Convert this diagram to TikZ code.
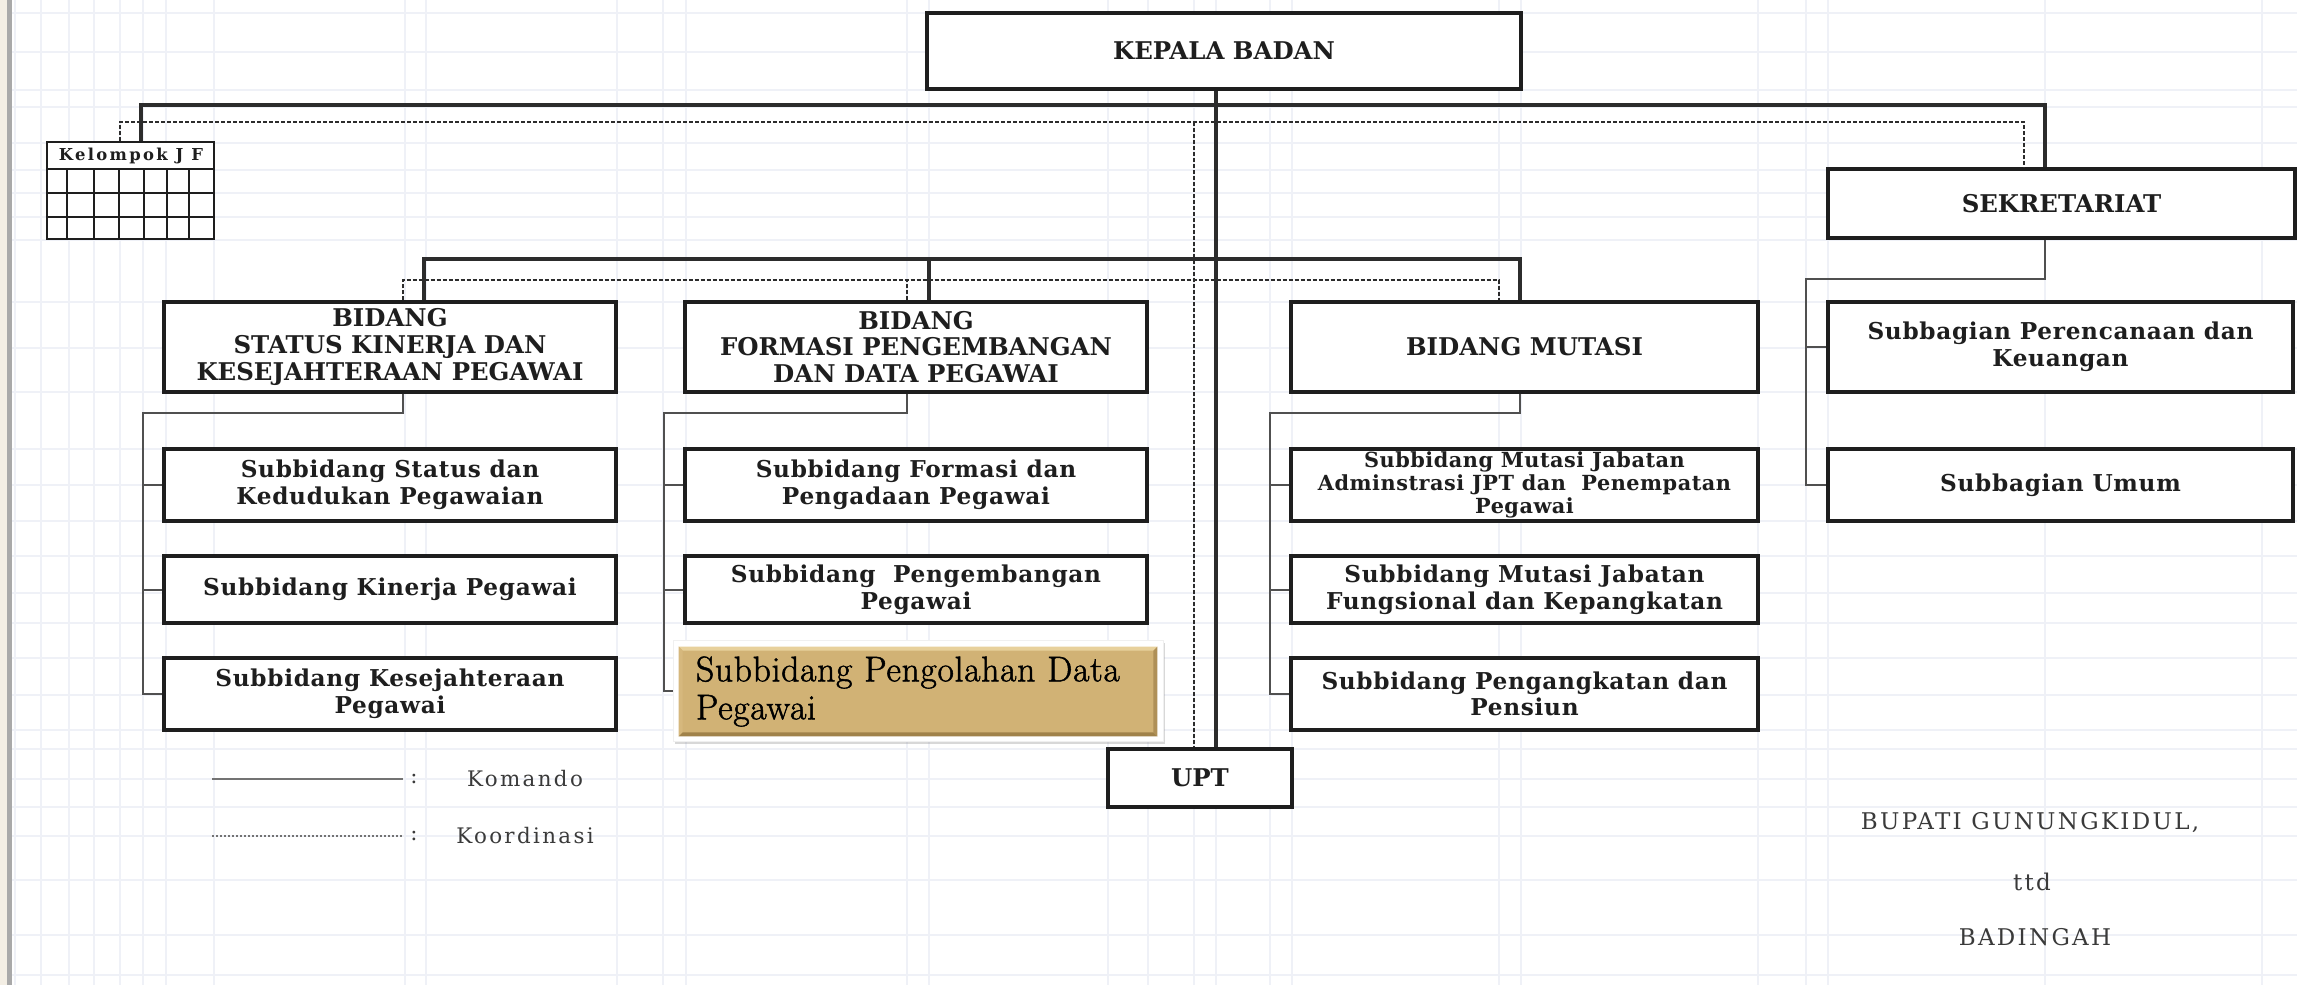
\documentclass[tikz,border=0pt]{standalone}
\usepackage{fontspec}
\usetikzlibrary{shadows,calc}
\newfontfamily\chartfont{DejaVu Serif}
\newfontfamily\platefont[FakeBold=1.4,LetterSpace=2]{Latin Modern Roman}

\definecolor{ink}{HTML}{1E1E1E}
\definecolor{wire}{HTML}{2C2C2C}
\definecolor{subwire}{HTML}{505050}
\definecolor{gridline}{HTML}{EFF1F7}
\definecolor{gold}{HTML}{D1B275}
\definecolor{goldlight}{HTML}{E8D19C}
\definecolor{golddark}{HTML}{A0824A}
\definecolor{paper}{HTML}{F3EEE4}
\definecolor{rail}{HTML}{A9A9A9}
\definecolor{softtext}{HTML}{3A3A3A}

\tikzset{
  size/.style 2 args={minimum width=#1*0.5pt, minimum height=#2*0.5pt},
  orgbox/.style={draw=ink, line width=1.7pt, fill=white, inner sep=0pt, align=center,
    text=ink, font={\chartfont\bfseries\fontsize{12.2}{13.3}\selectfont}},
  unitbox/.style={orgbox, font={\chartfont\bfseries\fontsize{11.6}{13.3}\selectfont\addfontfeature{LetterSpace=3}}},
  tightbox/.style={orgbox, font={\chartfont\bfseries\fontsize{10.4}{11.6}\selectfont\addfontfeature{LetterSpace=2.5}}},
  command/.style={draw=wire, line width=1.6pt},
  subcommand/.style={draw=subwire, line width=1pt},
  coord/.style={draw=wire, line width=0.9pt, dash pattern=on 2pt off 1pt},
  legendtext/.style={text=softtext, font={\chartfont\fontsize{10.7}{12}\selectfont\addfontfeature{LetterSpace=11}}},
  signtext/.style={text=softtext, font={\chartfont\fontsize{11.5}{12}\selectfont\addfontfeature{LetterSpace=10}}},
}

\begin{document}
\begin{tikzpicture}[x=0.5pt, y=-0.5pt]
\useasboundingbox (0,0) rectangle (2297,985);
\fill[white] (0,0) rectangle (2297,985);

% faint page grid
\foreach \gx in {15,41,69,94,120,143,166,214,405,426,617,663,686,907,929,1108,1148,1194,1216,1270,1292,1499,1521,1758,1806,1828,2045,2262}
  \draw[gridline, line width=0.6pt] (\gx,0) -- (\gx,985);
\foreach \gy in {13,52,90,107,143,170,193,217,240,302,348,392,449,485,521,556,593,623,658,695,730,749,779,807,836,880,935,975}
  \draw[gridline, line width=0.6pt] (0,\gy) -- (2297,\gy);

% left page rail
\fill[paper] (0,0) rectangle (7,985);
\fill[rail] (7,0) rectangle (12,985);

% ---------- boxes ----------
\node[orgbox, size={594}{76}] (kepala) at (1224,51) {KEPALA BADAN};
\node[orgbox, line width=1.1pt, size={167}{97}] (kjf) at (130.5,190.5) {};
\node[orgbox, size={467}{69}] (sekre) at (2061.5,203.5) {SEKRETARIAT};
\node[orgbox, size={452}{90}] (status) at (390,347) {BIDANG\\STATUS KINERJA DAN\\KESEJAHTERAAN PEGAWAI};
\node[orgbox, size={462}{90}] (formasi) at (916,347) {BIDANG\\FORMASI PENGEMBANGAN\\DAN DATA PEGAWAI};
\node[orgbox, size={467}{90}] (mutasi) at (1524.5,347) {BIDANG MUTASI};
\node[orgbox, size={184}{58}] (upt) at (1200,778) {UPT};

\node[unitbox, size={452}{72}] (st1) at (390,485) {Subbidang Status dan\\Kedudukan Pegawaian};
\node[unitbox, size={452}{67}] (st2) at (390,589.5) {Subbidang Kinerja Pegawai};
\node[unitbox, size={452}{72}] (st3) at (390,694) {Subbidang Kesejahteraan\\Pegawai};
\node[unitbox, size={462}{72}] (fm1) at (916,485) {Subbidang Formasi dan\\Pengadaan Pegawai};
\node[unitbox, size={462}{67}] (fm2) at (916,589.5) {Subbidang\ \ Pengembangan\\Pegawai};
\node[tightbox, size={467}{72}] (mu1) at (1524.5,485) {Subbidang Mutasi Jabatan\\Adminstrasi JPT dan\ \ Penempatan\\Pegawai};
\node[unitbox, size={467}{67}] (mu2) at (1524.5,589.5) {Subbidang Mutasi Jabatan\\Fungsional dan Kepangkatan};
\node[unitbox, size={467}{72}] (mu3) at (1524.5,694) {Subbidang Pengangkatan dan\\Pensiun};
\node[unitbox, size={465}{90}] (sk1) at (2060.5,347) {Subbagian Perencanaan dan\\Keuangan};
\node[unitbox, size={465}{72}] (sk2) at (2060.5,485) {Subbagian Umum};

% highlighted unit: white card, bevelled gold plate
\node[fill=white, draw=black!6, line width=0.4pt, inner sep=0pt, size={490}{101},
      drop shadow={shadow xshift=1.2pt, shadow yshift=-1.6pt, opacity=0.3}] (fm3back) at (918,690.5) {};
\node[fill=gold, inner sep=0pt, size={478}{89}] (fm3) at (918,691.5) {};

% bus coordinates
\coordinate (busA) at (1216,105);
\coordinate (busB) at (1194,122);
\coordinate (busC) at (1216,259);
\coordinate (busD) at (1194,280);
\coordinate (jfA) at (141,0);   \coordinate (jfB) at (120,0);
\coordinate (skA) at (2045,0);  \coordinate (skB) at (2024,0);
\coordinate (stA) at (424,0);   \coordinate (stB) at (403,0);
\coordinate (fmA) at (929,0);   \coordinate (fmB) at (907,0);
\coordinate (muA) at (1520,0);  \coordinate (muB) at (1499,0);
\coordinate (stL) at (143,413);
\coordinate (fmL) at (664,413);
\coordinate (muL) at (1270,413);
\coordinate (skL) at (1806,279);

% command lines
\draw[command] (kjf.north -| jfA) |- (busA) -| (sekre.north -| skA);
\draw[command] (kepala.south -| busA) -- (upt.north -| busA);
\draw[command] (status.north -| stA) |- (busC) -| (mutasi.north -| muA);
\draw[command] (formasi.north -| fmA) -- (fmA |- busC);

% coordination lines
\draw[coord] (kjf.north -| jfB) |- (busB) -| (sekre.north -| skB);
\draw[coord] (busB) -- (upt.north -| busB);
\draw[coord] (status.north -| stB) |- (busD) -| (mutasi.north -| muB);
\draw[coord] (formasi.north -| fmB) -- (fmB |- busD);

% sub-unit trees
\draw[subcommand] (status.south -| stB) |- (stL) -- (stL |- st3.west) -- (st3.west);
\draw[subcommand] (stL |- st1.west) -- (st1.west);
\draw[subcommand] (stL |- st2.west) -- (st2.west);

\draw[subcommand] (formasi.south -| fmB) |- (fmL) -- (fmL |- fm3back.west) -- (fm3back.west);
\draw[subcommand] (fmL |- fm1.west) -- (fm1.west);
\draw[subcommand] (fmL |- fm2.west) -- (fm2.west);

\draw[subcommand] (mutasi.south -| muA) |- (muL) -- (muL |- mu3.west) -- (mu3.west);
\draw[subcommand] (muL |- mu1.west) -- (mu1.west);
\draw[subcommand] (muL |- mu2.west) -- (mu2.west);

\draw[subcommand] (sekre.south -| skA) |- (skL) -- (skL |- sk2.west) -- (sk2.west);
\draw[subcommand] (skL |- sk1.west) -- (sk1.west);

% gold bevel and label
\fill[goldlight] (fm3.north west) -- (fm3.north east) -- ([shift={(-4,4)}]fm3.north east) -- ([shift={(4,4)}]fm3.north west) -- cycle;
\fill[gold!80!goldlight] (fm3.north west) -- ([shift={(4,4)}]fm3.north west) -- ([shift={(4,-4)}]fm3.south west) -- (fm3.south west) -- cycle;
\fill[golddark] (fm3.south west) -- ([shift={(4,-4)}]fm3.south west) -- ([shift={(-4,-4)}]fm3.south east) -- (fm3.south east) -- cycle;
\fill[golddark!70!gold] (fm3.north east) -- ([shift={(-4,4)}]fm3.north east) -- ([shift={(-4,-4)}]fm3.south east) -- (fm3.south east) -- cycle;
\node[text width=222pt, align=left, inner sep=0pt,
      font={\platefont\fontsize{17.8}{19}\selectfont}] (fm3text) at (fm3.center) {Subbidang Pengolahan Data\\Pegawai};

% functional group table
\node[text=ink, font={\chartfont\bfseries\fontsize{8.2}{9}\selectfont\addfontfeature{LetterSpace=14}}] (kjftitle) at (131,156) {Kelompok J F};
\foreach \ry in {169,193,217}
  \draw[ink, line width=1pt] (kjf.west |- 0,\ry) -- (kjf.east |- 0,\ry);
\foreach \cx in {67,94,119,144,167,189}
  \draw[ink, line width=1pt] (\cx,169) -- (kjf.south -| \cx,0);

% legend
\coordinate (lgA1) at (212,779); \coordinate (lgA2) at (403,779);
\coordinate (lgB1) at (212,836); \coordinate (lgB2) at (403,836);
\draw[draw=black!55, line width=1.4pt] (lgA1) -- (lgA2);
\draw[draw=black!55, line width=1pt, dash pattern=on 1.2pt off 0.8pt] (lgB1) -- (lgB2);
\node[legendtext] (colA) at (414,779) {:};
\node[legendtext] (colB) at (414,836) {:};
\node[legendtext] (komando) at (525,779) {Komando};
\node[legendtext] (koordinasi) at (525,836) {Koordinasi};

% signature block
\node[signtext] (bupati) at (2030,823) {BUPATI GUNUNGKIDUL,};
\node[signtext] (ttd) at (2032,882) {ttd};
\node[signtext] (badingah) at (2035,937) {BADINGAH};
\end{tikzpicture}
\end{document}
